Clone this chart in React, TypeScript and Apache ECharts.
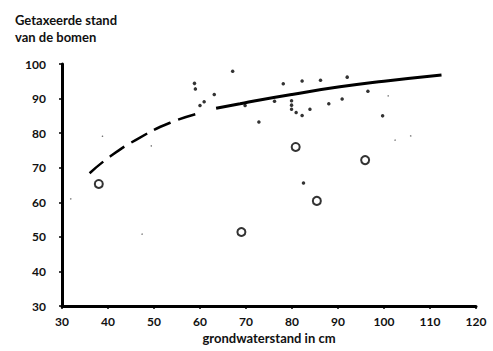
import React, { useEffect, useRef } from "react";
import * as echarts from "echarts";

const xTicks = [30, 40, 50, 60, 70, 80, 90, 100, 110, 120];
const yTicks = [30, 40, 50, 60, 70, 80, 90, 100];

const openCircles: [number, number][] = [
  [38, 65.3],
  [69, 51.4],
  [80.8, 76],
  [85.4, 60.4],
  [95.9, 72.2],
];

const dots: [number, number][] = [
  [58.8, 94.4], [59, 92.8], [60, 88], [60.9, 89.1], [63.1, 91.2], [67.1, 97.9],
  [69.8, 88], [72.8, 83.2], [76.2, 89.2], [78.1, 94.3], [79.9, 89.4], [79.9, 88.1],
  [79.9, 86.9], [80.9, 86], [82.2, 85.1], [82.2, 95.1], [83.9, 86.9], [86.2, 95.3],
  [88, 88.5], [90.9, 89.9], [92, 96.2], [96.5, 92.1], [99.7, 85], [82.5, 65.6],
];

const specks: [number, number][] = [
  [38.8, 79.1], [49.4, 76.3], [31.9, 61], [47.4, 50.8], [100.9, 90.8], [102.4, 78], [105.8, 79.2],
];

const dashedCurve: [number, number][] = [
  [36, 68.4], [40, 72.8], [46, 78], [53.5, 83], [60.5, 86],
];

const solidCurve: [number, number][] = [
  [63.5, 87.2], [68.7, 88.5], [73, 89.6], [80, 91.2], [90.4, 93.4], [100, 95], [112.5, 96.8],
];

const FONT = "Lato";

export default function App() {
  const ref = useRef<HTMLDivElement>(null);
  useEffect(() => {
    if (!ref.current) return;
    const chart = echarts.init(ref.current, null, { renderer: "svg" });
    chart.setOption({
      animation: false,
      backgroundColor: "#ffffff",
      grid: { left: 62, right: 17, top: 64, bottom: 45 },
      title: {
        text: "Getaxeerde stand\nvan de bomen",
        left: 10,
        top: 6,
        textStyle: { fontFamily: FONT, fontWeight: "bold", fontSize: 13, color: "#111", lineHeight: 17 },
      },
      xAxis: {
        type: "value",
        min: 30,
        max: 120,
        interval: 10,
        name: "grondwaterstand in cm",
        nameLocation: "middle",
        nameGap: 24,
        nameTextStyle: { fontFamily: FONT, fontWeight: "bold", fontSize: 13, color: "#111" },
        axisLine: { lineStyle: { color: "#000", width: 3 } },
        axisTick: { show: true, length: 3, lineStyle: { color: "#000", width: 1.5 } },
        axisLabel: {
          fontFamily: FONT, fontWeight: "bold", fontSize: 12, color: "#111", margin: 9,
          formatter: (v: number) => (xTicks.includes(v) ? String(v) : ""),
        },
        splitLine: { show: false },
      },
      yAxis: {
        type: "value",
        min: 30,
        max: 100,
        interval: 10,
        axisLine: { show: true, lineStyle: { color: "#000", width: 3 } },
        axisTick: { show: true, length: 3, lineStyle: { color: "#000", width: 1.5 } },
        axisLabel: {
          fontFamily: FONT, fontWeight: "bold", fontSize: 12, color: "#111", margin: 16,
          formatter: (v: number) => (yTicks.includes(v) ? String(v) : ""),
        },
        splitLine: { show: false },
      },
      series: [
        {
          type: "line",
          data: dashedCurve,
          smooth: true,
          symbol: "none",
          lineStyle: { color: "#000", width: 2.5, type: [18, 8] },
        },
        {
          type: "line",
          data: solidCurve,
          smooth: true,
          symbol: "none",
          lineStyle: { color: "#000", width: 3 },
        },
        {
          type: "scatter",
          data: dots,
          symbol: "circle",
          symbolSize: 3.5,
          itemStyle: { color: "#000" },
        },
        {
          type: "scatter",
          data: specks,
          symbol: "circle",
          symbolSize: 1.5,
          itemStyle: { color: "#555" },
        },
        {
          type: "scatter",
          data: openCircles,
          symbol: "circle",
          symbolSize: 8,
          itemStyle: { color: "#fff", borderColor: "#000", borderWidth: 2 },
          z: 5,
        },
      ],
    });
    return () => chart.dispose();
  }, []);
  return <div ref={ref} style={{ width: 493, height: 351, position: "absolute", left: 0, top: 0 }} />;
}
